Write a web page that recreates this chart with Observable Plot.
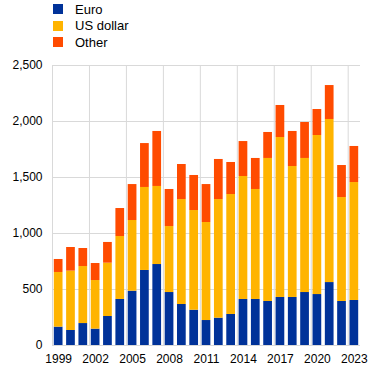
<!DOCTYPE html>
<html>
<head>
<meta charset="utf-8">
<script src="https://cdn.jsdelivr.net/npm/d3@7"></script>
<script src="https://cdn.jsdelivr.net/npm/@observablehq/plot@0.6"></script>
<style>
  body { margin: 0; background: #fff; font-family: "Liberation Sans", Arial, sans-serif; }
  #legend { position: relative; width: 372px; height: 52px; }
  .row { position: absolute; left: 53px; height: 14px; display: flex; align-items: center; font-size: 13px; color: #000; }
  .sw { width: 10px; height: 10px; margin-right: 12px; }
  svg { display: block; }
</style>
</head>
<body>
<div id="legend"></div>
<div id="chart"></div>
<script>
const years = [1999,2000,2001,2002,2003,2004,2005,2006,2007,2008,2009,2010,2011,2012,2013,2014,2015,2016,2017,2018,2019,2020,2021,2022,2023];
const euro = [164,134,196,146,259,411,485,670,723,473,366,315,223,244,277,411,411,393,429,429,473,455,562,393,402];
const usDollar = [488,530,509,434,476,562,631,741,697,589,937,890,875,1059,1071,1098,982,1277,1428,1169,1197,1420,1456,928,1053];
const other = [116,211,161,152,185,250,321,392,491,331,313,313,339,358,286,312,277,232,286,313,321,232,303,286,322];
const seriesNames = ["Euro", "US dollar", "Other"];
const seriesColors = ["#003299", "#ffb400", "#ff4b00"];
const xTicks = [1999,2002,2005,2008,2011,2014,2017,2020,2023];
const yTicks = [0,500,1000,1500,2000,2500];

const values = [euro, usDollar, other];
const data = [];
years.forEach((yr, i) => {
  seriesNames.forEach((s, k) => data.push({year: yr, currency: s, value: values[k][i]}));
});

// legend
const legend = document.getElementById("legend");
seriesNames.forEach((s, k) => {
  const row = document.createElement("div");
  row.className = "row";
  row.style.top = (2 + k * 16.7) + "px";
  row.innerHTML = `<span class="sw" style="background:${seriesColors[k]}"></span><span>${s}</span>`;
  legend.appendChild(row);
});

const gridX = xTicks.map(t => t - 0.5);

const chart = Plot.plot({
  width: 372,
  height: 320,
  marginTop: 13,
  marginBottom: 27,
  marginLeft: 52,
  marginRight: 12,
  style: {fontFamily: "'Liberation Sans', Arial, sans-serif", fontSize: "12px", color: "#000", background: "#fff"},
  x: {domain: [1998.5, 2023.5], ticks: xTicks, tickFormat: d => String(d), tickSize: 0, tickPadding: 9, label: null},
  y: {domain: [0, 2500], ticks: yTicks, tickFormat: d3.format(","), tickSize: 0, tickPadding: 10, label: null},
  color: {domain: seriesNames, range: seriesColors},
  marks: [
    Plot.ruleY(yTicks, {stroke: "#d9d9d9", strokeWidth: 1}),
    Plot.ruleX(gridX, {y1: 0, y2: 2500, stroke: "#d9d9d9", strokeWidth: 1}),
    Plot.rectY(data, {
      x1: d => d.year - 0.5,
      x2: d => d.year + 0.5,
      y: "value",
      fill: "currency",
      insetLeft: 1.8,
      insetRight: 1.8
    })
  ]
});
document.getElementById("chart").appendChild(chart);
</script>
</body>
</html>
